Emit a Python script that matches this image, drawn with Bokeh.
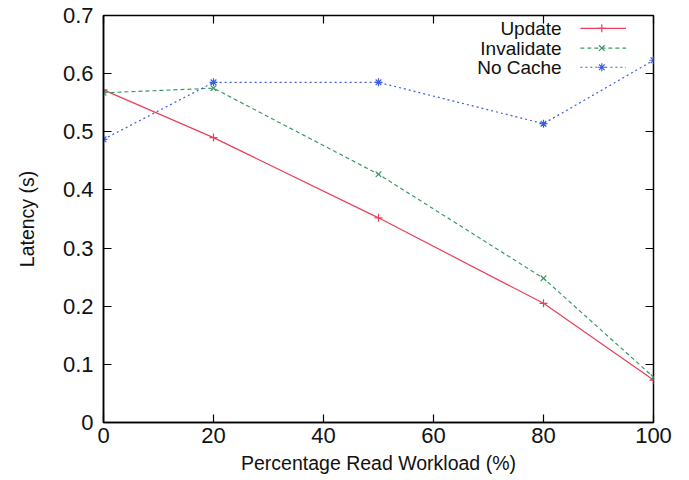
from bokeh.plotting import figure
from bokeh.models import FixedTicker, LinearAxis, CustomJSTickFormatter, Label, Range1d
from bokeh.embed import file_html
from bokeh.resources import INLINE

# Data
read_pct = [0, 20, 50, 80, 100]
update = [0.572, 0.490, 0.352, 0.205, 0.073]
invalidate = [0.567, 0.575, 0.427, 0.248, 0.078]
no_cache = [0.487, 0.585, 0.585, 0.514, 0.623]

series_names = ["Update", "Invalidate", "No Cache"]
series_colors = ["#e8405a", "#3a9a66", "#3a5ee0"]
series_dash = ["solid", "4 3", "2 3"]
series_markers = ["cross", "x", "asterisk"]

x_ticks = [0, 20, 40, 60, 80, 100]
y_ticks = [0, 0.1, 0.2, 0.3, 0.4, 0.5, 0.6, 0.7]

FONT = "Liberation Sans"

p = figure(width=689, height=480, output_backend="svg", toolbar_location=None,
           x_range=Range1d(0, 100), y_range=Range1d(0, 0.7),
           min_border_left=103, min_border_right=36, min_border_top=15, min_border_bottom=58)
p.background_fill_color = "white"
p.border_fill_color = "white"
p.outline_line_color = "black"
p.outline_line_width = 1.5
p.xgrid.visible = False
p.ygrid.visible = False

fmt_y = CustomJSTickFormatter(code="var s = tick.toFixed(1); return s === '0.0' ? '0' : s;")
fmt_none = CustomJSTickFormatter(code="return '';")

for ax in p.xaxis:
    ax.ticker = FixedTicker(ticks=x_ticks)
    ax.axis_label = "Percentage Read Workload (%)"
for ax in p.yaxis:
    ax.ticker = FixedTicker(ticks=y_ticks)
    ax.formatter = fmt_y
    ax.axis_label = "Latency (s)"

for ax in list(p.xaxis) + list(p.yaxis):
    ax.major_tick_in = 8
    ax.major_tick_out = 0
    ax.minor_tick_line_color = None
    ax.axis_line_color = "black"
    ax.axis_line_width = 1.5
    ax.major_tick_line_color = "black"
    ax.major_tick_line_width = 1.2
    ax.major_label_text_font = FONT
    ax.major_label_text_font_size = "22px"
    ax.major_label_text_color = "#111111"
    ax.axis_label_text_font = FONT
    ax.axis_label_text_font_size = "19.5px"
    ax.axis_label_text_font_style = "normal"
    ax.axis_label_text_color = "#111111"

p.yaxis.major_label_standoff = 10
p.yaxis.axis_label_standoff = 22
p.xaxis.major_label_standoff = 5
p.xaxis.axis_label_standoff = 6

# mirrored inner ticks on top and right
top_ax = LinearAxis(ticker=FixedTicker(ticks=x_ticks), formatter=fmt_none,
                    major_tick_in=8, major_tick_out=0, minor_tick_line_color=None,
                    axis_line_color=None, major_tick_line_color="black", major_tick_line_width=1.2)
right_ax = LinearAxis(ticker=FixedTicker(ticks=y_ticks), formatter=fmt_none,
                      major_tick_in=8, major_tick_out=0, minor_tick_line_color=None,
                      axis_line_color=None, major_tick_line_color="black", major_tick_line_width=1.2)
p.add_layout(top_ax, "above")
p.add_layout(right_ax, "right")

all_series = [update, invalidate, no_cache]
for vals, name, col, dash, mk in zip(all_series, series_names, series_colors, series_dash, series_markers):
    p.line(read_pct, vals, line_color=col, line_width=1.2, line_dash=dash)
    p.scatter(read_pct, vals, marker=mk, size=8, line_color=col, line_width=1.2, fill_color=col)

# Legend in gnuplot style: right-aligned text, sample to the right
leg_y = [0.678, 0.644, 0.611]
leg_x0, leg_x1, leg_xm, leg_tx = 86.7, 95.0, 90.6, 83.3
for yy, name, col, dash, mk in zip(leg_y, series_names, series_colors, series_dash, series_markers):
    p.add_layout(Label(x=leg_tx, y=yy, text=name, text_align="right", text_baseline="middle",
                       text_font=FONT, text_font_size="19px", text_color="#111111"))
    p.line([leg_x0, leg_x1], [yy, yy], line_color=col, line_width=1.2, line_dash=dash)
    p.scatter([leg_xm], [yy], marker=mk, size=8, line_color=col, line_width=1.2, fill_color=col)

open("out.html", "w").write(file_html(p, INLINE))
